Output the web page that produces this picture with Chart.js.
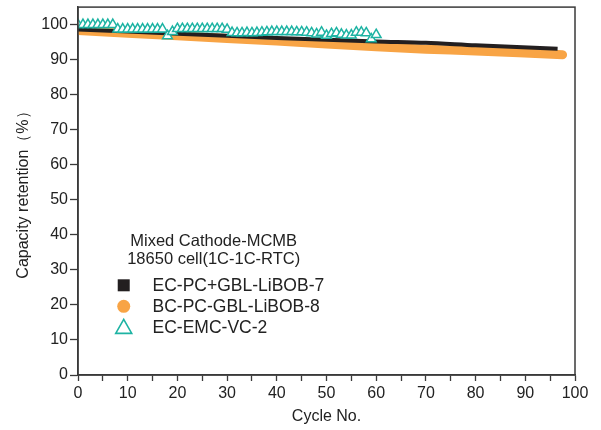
<!DOCTYPE html>
<html>
<head>
<meta charset="utf-8">
<script src="https://cdn.jsdelivr.net/npm/chart.js@4.4.1/dist/chart.umd.min.js"></script>
<style>
  html, body { margin: 0; padding: 0; background: #fff; }
  #wrap { width: 601px; height: 430px; }
</style>
</head>
<body>
<div id="wrap"><canvas id="c" width="601" height="430"></canvas></div>
<script>
// Series names
const seriesNames = ['EC-PC+GBL-LiBOB-7', 'BC-PC-GBL-LiBOB-8', 'EC-EMC-VC-2'];
const legendHeader = ['Mixed Cathode-MCMB', '18650 cell(1C-1C-RTC)'];

// EC-PC+GBL-LiBOB-7 (capacity retention, %)
const cyclesA = [0, 20, 40, 60, 70, 80, 96.5];
const retentionA = [98.6, 97.4, 96.2, 95.2, 94.8, 94.1, 93.1];

// BC-PC-GBL-LiBOB-8
const cyclesB = [0, 20, 40, 60, 70, 80, 97.5];
const retentionB = [98.3, 96.8, 95.3, 93.7, 93.0, 92.5, 91.4];

// EC-EMC-VC-2, one reading per cycle 0..60
const cyclesC = [0,1,2,3,4,5,6,7,8,9,10,11,12,13,14,15,16,17,18,19,20,21,22,23,24,25,26,27,28,29,30,
  31,32,33,34,35,36,37,38,39,40,41,42,43,44,45,46,47,48,49,50,51,52,53,54,55,56,57,58,59,60];
const retentionC = [100,100,100,100,100,100,100,100,98.7,98.7,98.7,98.7,98.7,98.7,98.7,98.7,98.7,98.7,96.8,98.0,
  98.8,98.8,98.8,98.8,98.8,98.8,98.8,98.8,98.8,98.8,98.6,
  97.7,97.6,97.6,97.7,97.6,97.7,97.8,97.9,98.0,98.0,98.0,98.0,98.0,97.9,97.9,97.8,97.6,97.3,97.8,96.9,
  97.4,97.6,97.2,97.0,97.0,97.8,97.8,97.6,95.9,97.1];

// Axis ticks
const xTicksMajor = [0, 10, 20, 30, 40, 50, 60, 70, 80, 90, 100];
const yTicks = [0, 10, 20, 30, 40, 50, 60, 70, 80, 90, 100];

const COL_A = '#231f20';
const COL_B = '#f8a445';
const COL_C = '#1db3a3';
const FONT = '"Liberation Sans", Arial, Helvetica, sans-serif';

const toXY = (xs, ys) => xs.map((x, i) => ({ x: x, y: ys[i] }));

// Frame around the plot area
const framePlugin = {
  id: 'frame',
  afterDatasetsDraw(chart) {
    const { ctx, chartArea: a } = chart;
    ctx.save();
    ctx.strokeStyle = '#3a3a3a';
    ctx.lineWidth = 1.5;
    ctx.strokeRect(a.left, a.top, a.right - a.left, a.bottom - a.top);
    ctx.restore();
  }
};

// Legend block placed inside the plot area
const legendPlugin = {
  id: 'insideLegend',
  afterDraw(chart) {
    const { ctx } = chart;
    const xs = chart.scales.x, ys = chart.scales.y;
    ctx.save();
    ctx.font = '16.5px ' + FONT;
    ctx.fillStyle = '#222';
    ctx.textBaseline = 'middle';
    ctx.textAlign = 'center';
    const cx = xs.getPixelForValue(27.3);
    ctx.fillText(legendHeader[0], cx, ys.getPixelForValue(38.0));
    ctx.fillText(legendHeader[1], cx, ys.getPixelForValue(33.1));
    const mx = xs.getPixelForValue(9.2);
    const tx = xs.getPixelForValue(15);
    const rows = [25.6, 19.6, 13.6];
    ctx.textAlign = 'left';
    ctx.font = '17.5px ' + FONT;
    rows.forEach((v, i) => {
      const y = ys.getPixelForValue(v);
      if (i === 0) {
        ctx.fillStyle = COL_A;
        ctx.fillRect(mx - 6, y - 6, 12, 12);
      } else if (i === 1) {
        ctx.fillStyle = COL_B;
        ctx.beginPath();
        ctx.arc(mx, y, 6.5, 0, Math.PI * 2);
        ctx.fill();
      } else {
        ctx.strokeStyle = COL_C;
        ctx.lineWidth = 1.6;
        ctx.beginPath();
        ctx.moveTo(mx, y - 8);
        ctx.lineTo(mx + 8, y + 6);
        ctx.lineTo(mx - 8, y + 6);
        ctx.closePath();
        ctx.stroke();
      }
      ctx.fillStyle = '#222';
      ctx.fillText(seriesNames[i], tx, y + 1);
    });
    ctx.restore();
  }
};

new Chart(document.getElementById('c'), {
  type: 'line',
  data: {
    datasets: [
      {
        label: seriesNames[2],
        data: toXY(cyclesC, retentionC),
        showLine: false,
        pointStyle: 'triangle',
        pointRadius: 5.6,
        pointBorderWidth: 1.5,
        pointBorderColor: COL_C,
        pointBackgroundColor: '#ffffff'
      },
      {
        label: seriesNames[0],
        data: toXY(cyclesA, retentionA),
        borderColor: COL_A,
        borderWidth: 4,
        pointRadius: 0,
        tension: 0.3,
        borderCapStyle: 'butt'
      },
      {
        label: seriesNames[1],
        data: toXY(cyclesB, retentionB),
        borderColor: COL_B,
        borderWidth: 9,
        pointRadius: 0,
        tension: 0.3,
        borderCapStyle: 'round'
      }
    ]
  },
  options: {
    responsive: false,
    animation: false,
    layout: { padding: { top: 7, right: 26, left: 0, bottom: 0 } },
    plugins: { legend: { display: false }, tooltip: { enabled: false } },
    scales: {
      x: {
        type: 'linear',
        min: 0, max: 100,
        afterBuildTicks(s) { s.ticks = []; for (let v = 0; v <= 100; v += 5) s.ticks.push({ value: v }); },
        afterFit(s) { s.height = 55; s.paddingLeft = 0; s.paddingRight = 0; },
        border: { display: true, color: '#3a3a3a', width: 1.5 },
        grid: { drawOnChartArea: false, drawTicks: true, tickLength: 6, tickColor: '#3a3a3a', tickWidth: 1.3 },
        ticks: {
          color: '#222', font: { size: 16, family: FONT }, padding: 3, maxRotation: 0, autoSkip: false,
          callback: v => xTicksMajor.includes(v) ? String(v) : ''
        },
        title: { display: true, text: 'Cycle No.', color: '#222', font: { size: 16, family: FONT }, padding: { top: 4 } }
      },
      y: {
        min: 0, max: 105,
        afterBuildTicks(s) { s.ticks = yTicks.map(v => ({ value: v })); },
        afterFit(s) { s.width = 78; s.paddingTop = 0; s.paddingBottom = 0; },
        border: { display: true, color: '#3a3a3a', width: 1.5 },
        grid: { drawOnChartArea: false, drawTicks: true, tickLength: 8, tickColor: '#3a3a3a', tickWidth: 1.3 },
        ticks: { color: '#222', font: { size: 16, family: FONT }, padding: 2 },
        title: { display: true, text: 'Capacity retention（%）', color: '#222', font: { size: 16, family: FONT }, padding: { top: 14, bottom: 6 } }
      }
    }
  },
  plugins: [framePlugin, legendPlugin]
});
</script>
</body>
</html>
